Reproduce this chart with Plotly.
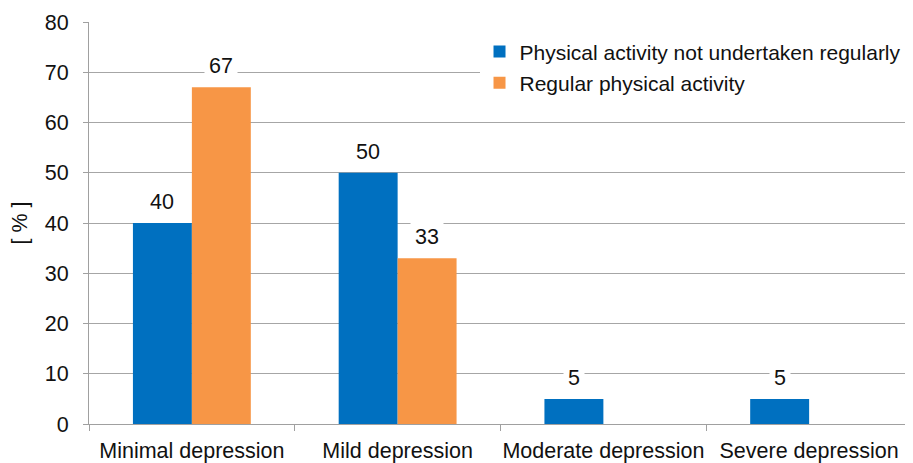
import plotly.graph_objects as go

categories = ["Minimal depression", "Mild depression", "Moderate depression", "Severe depression"]
not_regular = [40, 50, 5, 5]
regular = [67, 33, 0, 0]
series_names = ["Physical activity not undertaken regularly", "Regular physical activity"]
colors = ["#0070C0", "#F79646"]
y_ticks = [0, 10, 20, 30, 40, 50, 60, 70, 80]

W, H = 905, 455
ML, MR, MT, MB = 81, 1, 14, 39
bargap = 0.427
plot_w = W - ML - MR
bar_w = plot_w / len(categories) * (1 - bargap) / 2

font = dict(family="Liberation Sans, Arial, sans-serif", size=21.5, color="#111111")
legend_font = dict(family="Liberation Sans, Arial, sans-serif", size=21, color="#111111")

fig = go.Figure()
for i, (name, vals, col) in enumerate(zip(series_names, [not_regular, regular], colors)):
    fig.add_trace(go.Bar(x=categories, y=vals, name=name, legendgroup=str(i),
                         marker=dict(color=col, line=dict(width=0))))

annotations = []
for sign, vals in zip([-1, 1], [not_regular, regular]):
    for c, v in zip(categories, vals):
        if v == 0:
            continue
        annotations.append(dict(
            x=c, y=v, xref="x", yref="y", text=str(v), showarrow=False,
            xshift=sign * bar_w / 2, yshift=4, yanchor="bottom",
            bgcolor="white", borderpad=4, font=font))

fig.update_layout(
    width=W, height=H,
    margin=dict(l=ML, r=MR, t=MT, b=MB, autoexpand=False),
    paper_bgcolor="white", plot_bgcolor="white",
    font=font,
    barmode="group", bargap=bargap, bargroupgap=0,
    showlegend=True,
    legend=dict(x=0.4745, y=0.977, xanchor="left", yanchor="top",
                bgcolor="white", font=legend_font, itemwidth=30,
                traceorder="grouped", tracegroupgap=1),
    annotations=annotations,
)
fig.update_xaxes(
    showline=True, linecolor="#A0A0A0", linewidth=1,
    ticks="outside", tickson="boundaries", ticklen=6, tickcolor="#A0A0A0",
    showgrid=False, tickfont=font, tickangle=0, ticklabelstandoff=7,
    automargin=False,
)
fig.update_yaxes(
    range=[0, 80], tickvals=y_ticks,
    showline=True, linecolor="#A0A0A0", linewidth=1,
    ticks="outside", ticklen=5, tickcolor="#A0A0A0", ticklabelstandoff=10,
    showgrid=True, gridcolor="#A6A6A6", gridwidth=1,
    zeroline=False, tickfont=font, automargin=False,
    title=dict(text="[ % ]", font=font, standoff=12),
)
fig.write_html("out.html")
